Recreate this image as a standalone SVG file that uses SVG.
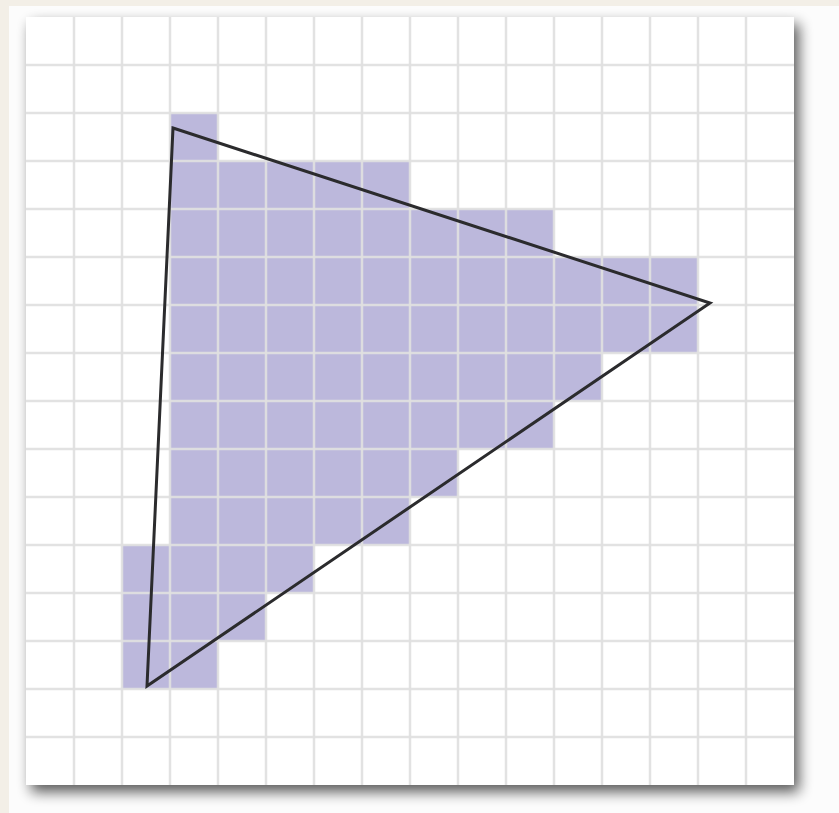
<svg xmlns="http://www.w3.org/2000/svg" width="839" height="813" viewBox="0 0 839 813">
  <defs>
    <filter id="shadow" x="-10%" y="-10%" width="125%" height="125%">
      <feGaussianBlur in="SourceAlpha" stdDeviation="7" result="b"/>
      <feOffset in="b" dx="5" dy="7" result="o"/>
      <feComponentTransfer in="o" result="s"><feFuncA type="linear" slope="0.65"/></feComponentTransfer>
      <feMerge><feMergeNode in="s"/><feMergeNode in="SourceGraphic"/></feMerge>
    </filter>
    <style>
      .cell { fill: #bcb8dc; }
      .gl { fill: none; stroke: #e0e0e0; stroke-width: 2.5; stroke-opacity: 0.92; }
      .tri { fill: none; stroke: #2b2b2d; stroke-width: 3; stroke-linejoin: miter; }
    </style>
  </defs>
  <rect width="839" height="813" fill="#f3efe7"/>
  <rect x="9" y="6" width="830" height="807" fill="#fcfcfc"/>
  <rect id="panel" x="26" y="17" width="768" height="768" fill="#ffffff" filter="url(#shadow)"/>
  <g id="cells">
    <rect class="cell" x="170" y="113" width="48" height="48"/>
    <rect class="cell" x="170" y="161" width="240" height="48"/>
    <rect class="cell" x="170" y="209" width="384" height="48"/>
    <rect class="cell" x="170" y="257" width="528" height="96"/>
    <rect class="cell" x="170" y="353" width="432" height="48"/>
    <rect class="cell" x="170" y="401" width="384" height="48"/>
    <rect class="cell" x="170" y="449" width="288" height="48"/>
    <rect class="cell" x="170" y="497" width="240" height="48"/>
    <rect class="cell" x="122" y="545" width="192" height="48"/>
    <rect class="cell" x="122" y="593" width="144" height="48"/>
    <rect class="cell" x="122" y="641" width="96" height="48"/>
  </g>
  <g id="gridlines">
    <path class="gl" d="M74 17V785M122 17V785M170 17V785M218 17V785M266 17V785M314 17V785M362 17V785M410 17V785M458 17V785M506 17V785M554 17V785M602 17V785M650 17V785M698 17V785M746 17V785"/>
    <path class="gl" d="M26 65H794M26 113H794M26 161H794M26 209H794M26 257H794M26 305H794M26 353H794M26 401H794M26 449H794M26 497H794M26 545H794M26 593H794M26 641H794M26 689H794M26 737H794"/>
  </g>
  <g id="triangle">
    <polygon class="tri" points="173,128 710,303 147,686"/>
  </g>
</svg>
